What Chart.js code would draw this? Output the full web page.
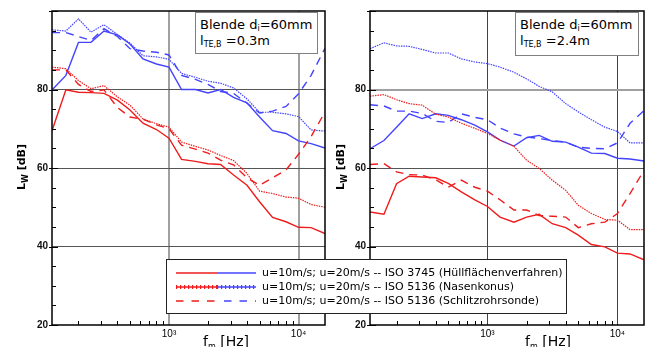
<!DOCTYPE html>
<html>
<head>
<meta charset="UTF-8">
<title>Blende di=60mm</title>
<script src="https://cdn.jsdelivr.net/npm/chart.js"></script>
<style>
  body { margin: 0; background: #fff; }
  #wrap { position: relative; width: 646px; height: 347px; overflow: hidden; font-family: "DejaVu Sans", sans-serif; color: #000; }
  canvas { position: absolute; top: 0; }
  .box { position: absolute; background: #fff; border: 1px solid #808080; font-size: 13px; line-height: 16px; padding: 4px 0 0 4px; box-sizing: border-box; white-space: nowrap; }
  .box sub { font-size: 8px; vertical-align: -2px; line-height: 0; }
  .ytitle { position: absolute; transform-origin: 0 0; transform: rotate(-90deg); font-weight: bold; font-size: 11px; line-height: 14px; white-space: nowrap; }
  .ytitle sub, .xtitle sub { font-size: 8px; vertical-align: -3px; line-height: 0; }
  .xtitle { position: absolute; font-size: 14px; line-height: 14px; white-space: nowrap; }
  #legend { position: absolute; left: 166px; top: 259px; width: 401px; height: 55px; box-sizing: border-box; border: 1.5px solid #222; background: #fff; padding-top: 6px; font-size: 11px; }
  #legend .row { height: 14px; line-height: 14px; white-space: nowrap; position: relative; }
  #legend svg { position: absolute; left: 8px; top: 4px; }
  #legend span { position: absolute; left: 95px; top: 0; }
</style>
</head>
<body>
<div id="wrap">
  <canvas id="links" width="330" height="347" style="left:0"></canvas>
  <canvas id="rechts" width="316" height="347" style="left:330px"></canvas>

  <div class="box" style="left:195px;top:12px;width:123px;height:42px">Blende d<sub>i</sub>=60mm<br>l<sub>TE,B</sub> =0.3m</div>
  <div class="box" style="left:515px;top:12px;width:124px;height:44px">Blende d<sub>i</sub>=60mm<br>l<sub>TE,B</sub> =2.4m</div>

  <div class="ytitle" style="left:15px;top:190px">L<sub>W</sub> [dB]</div>
  <div class="ytitle" style="left:334px;top:190px">L<sub>W</sub> [dB]</div>
  <div class="xtitle" style="left:203px;top:334px">f<sub>m</sub> [Hz]</div>
  <div class="xtitle" style="left:525px;top:334px">f<sub>m</sub> [Hz]</div>

  <div id="legend">
    <div class="row">
      <svg width="82" height="6"><line x1="1" y1="3" x2="42" y2="3" stroke="#ee1c1c" stroke-width="1.6"/><line x1="42" y1="3" x2="81" y2="3" stroke="#4444ff" stroke-width="1.6"/></svg>
      <span>u=10m/s; u=20m/s -- ISO 3745 (Hüllflächenverfahren)</span>
    </div>
    <div class="row">
      <svg width="82" height="6"><line x1="1" y1="3" x2="42" y2="3" stroke="#ee1c1c" stroke-width="1.4"/><line x1="1" y1="3" x2="42" y2="3" stroke="#ee1c1c" stroke-width="4" stroke-dasharray="1.2,2.8"/><line x1="42" y1="3" x2="81" y2="3" stroke="#4444ff" stroke-width="1.4"/><line x1="42" y1="3" x2="81" y2="3" stroke="#4444ff" stroke-width="4" stroke-dasharray="1.2,2.8"/></svg>
      <span>u=10m/s; u=20m/s -- ISO 5136 (Nasenkonus)</span>
    </div>
    <div class="row">
      <svg width="82" height="6"><line x1="1" y1="3" x2="42" y2="3" stroke="#ee1c1c" stroke-width="1.6" stroke-dasharray="7.5,8"/><line x1="49" y1="3" x2="81" y2="3" stroke="#4444ff" stroke-width="1.6" stroke-dasharray="7.5,8"/></svg>
      <span>u=10m/s; u=20m/s -- ISO 5136 (Schlitzrohrsonde)</span>
    </div>
  </div>
</div>

<script>
// Terzmittenfrequenzen
const freqs = [125, 160, 200, 250, 315, 400, 500, 630, 800, 1000, 1250, 1600, 2000, 2500, 3150, 4000, 5000, 6300, 8000, 10000, 12500, 16000];

// l_TE,B = 0.3 m
const kurz_u10_3745 = [69.5, 79.9, 79.3, 79.2, 79.0, 77.3, 74.8, 71.4, 69.8, 67.6, 62.2, 61.7, 61.1, 60.9, 58.2, 55.6, 51.4, 47.4, 46.3, 44.9, 44.8, 43.3];
const kurz_u10_nase = [85.7, 85.3, 82.3, 80.2, 81.0, 78.1, 76.0, 72.5, 71.3, 70.4, 66.6, 65.5, 64.6, 63.2, 61.9, 58.6, 54.1, 53.5, 52.6, 52.3, 50.7, 50.0];
const kurz_u10_schl = [85.0, 85.0, 81.3, 79.5, 79.9, 75.4, 73.0, 72.4, 71.0, 70.0, 65.8, 64.8, 63.8, 62.0, 60.8, 57.5, 55.6, 57.5, 59.5, 63.5, 68.0, 74.3];
const kurz_u20_3745 = [79.9, 83.6, 92.0, 92.0, 94.9, 93.9, 91.6, 87.8, 86.5, 85.7, 80.0, 80.0, 79.1, 80.0, 78.0, 76.6, 73.0, 69.5, 68.8, 66.9, 66.2, 65.1];
const kurz_u20_nase = [95.2, 94.9, 98.0, 94.6, 96.5, 94.0, 91.8, 88.6, 88.3, 87.7, 84.1, 83.1, 82.1, 81.6, 80.4, 77.6, 74.2, 74.2, 73.8, 73.1, 69.7, 69.4];
const kurz_u20_schl = [94.5, 94.5, 93.5, 92.5, 95.5, 93.5, 90.4, 89.8, 89.5, 88.8, 83.6, 82.6, 81.3, 79.5, 79.0, 76.5, 74.0, 74.5, 75.7, 78.9, 83.6, 90.5];

// l_TE,B = 2.4 m
const lang_u10_3745 = [48.8, 48.2, 56.0, 57.9, 57.7, 57.5, 56.1, 53.9, 51.9, 50.2, 47.5, 46.2, 47.5, 48.2, 45.8, 44.8, 42.9, 40.5, 39.9, 38.3, 38.1, 36.6];
const lang_u10_nase = [78.3, 78.7, 77.4, 76.4, 76.0, 73.7, 73.0, 71.4, 70.1, 68.8, 67.1, 65.5, 62.0, 59.9, 56.9, 54.3, 50.5, 48.4, 46.9, 46.7, 44.3, 44.3];
const lang_u10_schl = [60.9, 61.1, 59.0, 58.3, 58.2, 57.0, 55.1, 56.9, 55.1, 54.1, 51.9, 49.3, 49.3, 47.9, 47.7, 47.5, 44.8, 45.8, 46.2, 48.4, 53.5, 59.4];
const lang_u20_3745 = [64.9, 67.0, 70.4, 73.8, 72.6, 73.8, 73.4, 72.3, 70.9, 69.2, 67.1, 65.6, 67.7, 68.3, 66.8, 66.6, 65.3, 63.8, 63.7, 62.5, 62.3, 61.8];
const lang_u20_nase = [90.4, 91.9, 91.1, 91.0, 90.2, 89.3, 89.3, 87.8, 87.0, 86.6, 85.7, 84.4, 82.7, 80.8, 79.4, 76.4, 74.3, 72.3, 70.4, 69.3, 66.4, 66.4];
const lang_u20_schl = [76.1, 75.8, 74.5, 74.5, 73.9, 71.9, 71.6, 73.8, 72.9, 72.3, 70.2, 68.7, 67.9, 67.5, 67.0, 66.6, 65.3, 65.0, 64.9, 66.4, 71.4, 74.6];

const xTicks = [1000, 10000];
const xMinor = [200, 300, 400, 500, 600, 700, 800, 900, 2000, 3000, 4000, 5000, 6000, 7000, 8000, 9000];
const yTicks = [20, 40, 60, 80, 100];

const rot = '#ee1c1c';
const blau = '#4444ff';

function linie(werte, farbe, art) {
  const ds = {
    data: freqs.map((f, i) => ({ x: f, y: werte[i] })),
    borderColor: farbe,
    borderWidth: 1.4,
    pointRadius: 0,
    tension: 0
  };
  if (art === 'punkt') { ds.borderDash = [1.5, 1]; ds.borderWidth = 1.2; }
  if (art === 'strich') { ds.borderDash = [8, 6]; }
  return ds;
}

// Rahmen und nach innen zeigende Ticks
const rahmen = {
  id: 'rahmen',
  afterDraw(chart) {
    const { ctx, chartArea: a, scales: { x, y } } = chart;
    ctx.save();
    ctx.strokeStyle = '#000';
    ctx.lineWidth = 1;
    for (let v = 20; v <= 100; v += 5) {
      const py = Math.round(y.getPixelForValue(v)) + 0.5;
      const gross = v % 20 === 0;
      ctx.beginPath();
      ctx.moveTo(a.left - (gross ? 3 : 0), py);
      ctx.lineTo(a.left + (gross ? 6 : 4), py);
      ctx.stroke();
    }
    for (const f of xMinor) {
      const px = Math.round(x.getPixelForValue(f)) + 0.5;
      ctx.beginPath();
      ctx.moveTo(px, a.bottom);
      ctx.lineTo(px, a.bottom - 4);
      ctx.stroke();
    }
    ctx.lineWidth = 1.5;
    ctx.strokeRect(a.left, a.top, a.right - a.left, a.bottom - a.top);
    ctx.restore();
  }
};

function diagramm(id, reihen, yBreite, rechtsPad, gitterX, gitterY) {
  return new Chart(document.getElementById(id), {
    type: 'line',
    data: {
      datasets: [
        linie(reihen[0], rot, 'voll'),
        linie(reihen[1], rot, 'punkt'),
        linie(reihen[2], rot, 'strich'),
        linie(reihen[3], blau, 'voll'),
        linie(reihen[4], blau, 'punkt'),
        linie(reihen[5], blau, 'strich')
      ]
    },
    options: {
      responsive: false,
      animation: false,
      layout: { padding: { top: 11, right: rechtsPad, left: 0, bottom: 0 } },
      plugins: { legend: { display: false }, tooltip: { enabled: false } },
      scales: {
        x: {
          type: 'logarithmic',
          min: 125,
          max: 16000,
          afterBuildTicks: s => { s.ticks = xTicks.map(v => ({ value: v })); },
          afterFit: s => { s.height = 22; },
          ticks: {
            callback: v => v === 1000 ? '10³' : '10⁴',
            font: { family: 'Liberation Sans', size: 10 },
            color: '#000',
            padding: 3,
            maxRotation: 0,
            autoSkip: false
          },
          grid: { color: gitterX.farbe, lineWidth: gitterX.breite, drawTicks: false },
          border: { display: false }
        },
        y: {
          min: 20,
          max: 100,
          afterBuildTicks: s => { s.ticks = yTicks.map(v => ({ value: v })); },
          afterFit: s => { s.width = yBreite; },
          ticks: {
            callback: v => v === 100 ? '' : v,
            font: { family: 'Liberation Sans', size: 10, weight: 'bold' },
            color: '#111',
            padding: 4
          },
          grid: {
            color: c => (c.tick && c.tick.value > 20 && c.tick.value < 100) ? gitterY(c.tick.value).farbe : 'rgba(0,0,0,0)',
            lineWidth: c => (c.tick ? gitterY(c.tick.value).breite : 1),
            drawTicks: false
          },
          border: { display: false }
        }
      }
    },
    plugins: [rahmen]
  });
}

diagramm('links',
  [kurz_u10_3745, kurz_u10_nase, kurz_u10_schl, kurz_u20_3745, kurz_u20_nase, kurz_u20_schl],
  52, 5,
  { farbe: '#a0a0a0', breite: 2 },
  v => ({ farbe: '#555', breite: 1 }));

diagramm('rechts',
  [lang_u10_3745, lang_u10_nase, lang_u10_schl, lang_u20_3745, lang_u20_nase, lang_u20_schl],
  40, 2,
  { farbe: '#444', breite: 1 },
  v => (v === 80 ? { farbe: '#a0a0a0', breite: 2 } : { farbe: '#555', breite: 1 }));
</script>
</body>
</html>
